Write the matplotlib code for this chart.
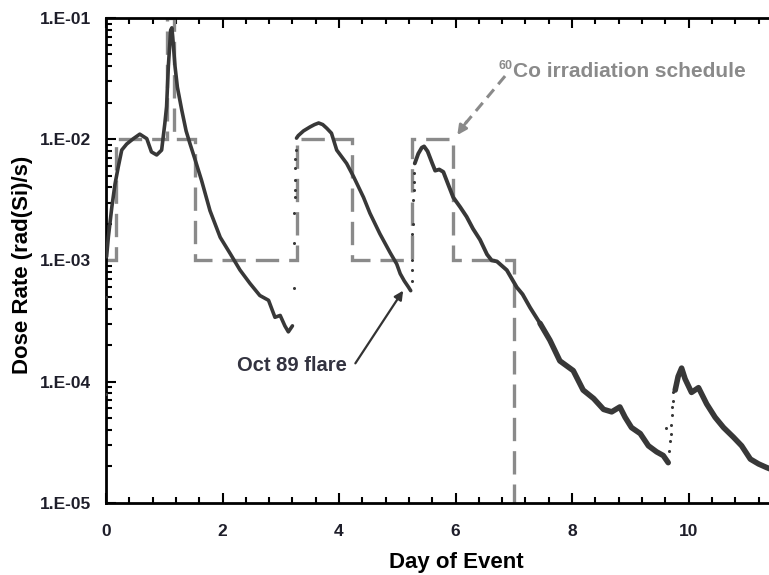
import numpy as np
import matplotlib
matplotlib.use("Agg")
import matplotlib.pyplot as plt
from matplotlib.ticker import MultipleLocator, FixedLocator, FuncFormatter, LogLocator, NullFormatter

plt.rcParams['font.family'] = ['Liberation Sans', 'DejaVu Sans']
plt.rcParams['font.weight'] = 'bold'

# ---- data (Day of event, dose rate rad(Si)/s) ----
seg1_day = [0.01, 0.04, 0.10, 0.155, 0.21, 0.27, 0.355, 0.47, 0.58, 0.70, 0.78, 0.87, 0.955,
            1.01, 1.04, 1.07, 1.11, 1.13, 1.145, 1.185, 1.225, 1.30, 1.375, 1.44, 1.53, 1.64,
            1.785, 1.96, 2.13, 2.30, 2.47, 2.64, 2.79, 2.90, 2.99, 3.07, 3.13, 3.20]
seg1_dose = [1.07e-3, 1.55e-3, 2.75e-3, 4.27e-3, 5.89e-3, 8.13e-3, 9.12e-3, 1.01e-2, 1.10e-2,
             1.01e-2, 7.85e-3, 7.41e-3, 8.13e-3, 1.35e-2, 1.86e-2, 3.98e-2, 7.94e-2, 8.3e-2,
             7.0e-2, 3.98e-2, 2.69e-2, 1.74e-2, 1.17e-2, 9.23e-3, 6.76e-3, 4.57e-3, 2.57e-3,
             1.55e-3, 1.14e-3, 8.32e-4, 6.46e-4, 5.13e-4, 4.68e-4, 3.39e-4, 3.51e-4, 2.88e-4,
             2.57e-4, 2.88e-4]

seg2_day = [3.27, 3.30, 3.39, 3.50, 3.58, 3.65, 3.72, 3.79, 3.87, 3.96, 4.13, 4.25, 4.42, 4.53,
            4.70, 4.88, 4.99, 5.05, 5.12, 5.19, 5.23]
seg2_dose = [1.02e-2, 1.07e-2, 1.17e-2, 1.26e-2, 1.32e-2, 1.36e-2, 1.32e-2, 1.23e-2, 1.12e-2,
             8.13e-3, 6.31e-3, 4.90e-3, 3.31e-3, 2.45e-3, 1.66e-3, 1.15e-3, 9.33e-4, 7.76e-4,
             6.76e-4, 6.03e-4, 5.62e-4]

seg3_day = [5.30, 5.36, 5.42, 5.46, 5.52, 5.60, 5.65, 5.72, 5.79, 5.87, 5.96, 6.08, 6.19, 6.30,
            6.42, 6.54, 6.62, 6.71, 6.88, 7.05, 7.15, 7.28, 7.45, 7.62, 7.79, 8.02, 8.19, 8.37,
            8.54, 8.68, 8.82, 8.91, 9.02, 9.17, 9.31, 9.45, 9.565, 9.65]
seg3_dose = [6.31e-3, 7.59e-3, 8.51e-3, 8.71e-3, 7.94e-3, 6.31e-3, 5.50e-3, 5.62e-3, 5.37e-3,
             4.27e-3, 3.31e-3, 2.75e-3, 2.29e-3, 1.82e-3, 1.48e-3, 1.12e-3, 1.0e-3, 9.8e-4,
             8.3e-4, 6.0e-4, 5.25e-4, 4.07e-4, 3.02e-4, 2.19e-4, 1.48e-4, 1.23e-4, 8.5e-5,
             7.24e-5, 5.89e-5, 5.62e-5, 6.17e-5, 5.07e-5, 4.17e-5, 3.72e-5, 2.95e-5, 2.63e-5,
             2.45e-5, 2.14e-5]

seg4_day = [9.77, 9.82, 9.88, 9.94, 10.05, 10.17, 10.31, 10.455, 10.60, 10.77, 10.91, 11.06,
            11.20, 11.34, 11.40]
seg4_dose = [8.5e-5, 1.10e-4, 1.29e-4, 1.05e-4, 8.13e-5, 8.9e-5, 6.53e-5, 5.07e-5, 4.17e-5,
             3.47e-5, 2.95e-5, 2.29e-5, 2.09e-5, 1.95e-5, 1.9e-5]

# sparse points (rising edges / stray samples)
dots_day = [0.0, 0.0, 3.22, 3.23, 3.23, 3.24, 3.24, 3.24, 3.25, 3.25, 3.26,
            5.25, 5.25, 5.26, 5.26, 5.27, 5.27, 5.28, 5.28, 5.29,
            9.62, 9.67, 9.68, 9.69, 9.70, 9.71, 9.72, 9.73, 9.74]
dots_dose = [5.0e-4, 7.9e-5, 5.9e-4, 1.38e-3, 2.45e-3, 3.31e-3, 3.80e-3, 4.57e-3, 5.75e-3,
             6.92e-3, 8.13e-3,
             6.8e-4, 8.3e-4, 1.0e-3, 1.66e-3, 2.0e-3, 3.16e-3, 3.8e-3, 4.47e-3, 5.25e-3,
             4.1e-5, 2.69e-5, 3.24e-5, 3.72e-5, 4.37e-5, 5.25e-5, 6.17e-5, 6.92e-5, 8.13e-5]

# 60Co irradiation schedule (step)
sched_day = [0, 0.18, 0.18, 1.04, 1.04, 1.17, 1.17, 1.53, 1.53, 3.27, 3.27, 4.22, 4.22,
             5.25, 5.25, 5.95, 5.95, 7.0, 7.0]
sched_dose = [1e-3, 1e-3, 1e-2, 1e-2, 1e-1, 1e-1, 1e-2, 1e-2, 1e-3, 1e-3, 1e-2, 1e-2, 1e-3,
              1e-3, 1e-2, 1e-2, 1e-3, 1e-3, 1e-5]

y_ticks = [1e-5, 1e-4, 1e-3, 1e-2, 1e-1]
x_ticks = [0, 2, 4, 6, 8, 10]

# ---- figure ----
fig = plt.figure(figsize=(7.69, 5.75), dpi=100)
ax = fig.add_axes([106/769, 1 - 502.7/575, 1 - 106/769, (502.7 - 18)/575])
ax.set_yscale('log')
ax.set_xlim(0, 11.38)
ax.set_ylim(1e-5, 1e-1)

gray = '#8a8a8a'
dark = '#383838'

ax.plot(sched_day, sched_dose, color=gray, lw=2.4, dashes=(7, 3), zorder=2,
        solid_joinstyle='miter', dash_joinstyle='miter', dash_capstyle='butt')

ax.plot(seg1_day, seg1_dose, color=dark, lw=2.6, zorder=3, solid_joinstyle='round',
        solid_capstyle='round')
ax.plot(seg2_day, seg2_dose, color=dark, lw=2.6, zorder=3, solid_joinstyle='round',
        solid_capstyle='round')
s3d = np.array(seg3_day); s3v = np.array(seg3_dose)
early = s3d <= 7.62
ax.plot(s3d[early], s3v[early], color=dark, lw=2.8, zorder=3, solid_joinstyle='round',
        solid_capstyle='round')
late = s3d >= 7.45
ax.plot(s3d[late], s3v[late], color=dark, lw=4.0, zorder=3, solid_joinstyle='round',
        solid_capstyle='round')
ax.plot(seg4_day, seg4_dose, color=dark, lw=4.0, zorder=3, solid_joinstyle='round',
        solid_capstyle='round')
ax.plot(dots_day, dots_dose, 'o', color=dark, ms=2.2, mew=0, zorder=3)

# ticks
ax.xaxis.set_major_locator(FixedLocator(x_ticks))
ax.xaxis.set_minor_locator(MultipleLocator(0.4))
ax.yaxis.set_major_locator(FixedLocator(y_ticks))
ax.yaxis.set_minor_locator(LogLocator(base=10, subs=np.arange(2, 10)))
ax.yaxis.set_minor_formatter(NullFormatter())
ax.yaxis.set_major_formatter(FuncFormatter(lambda v, p: "1.E%03d" % int(round(np.log10(v)))))

lab_col = '#1e1e2a'
ax.tick_params(which='both', direction='in', top=True, right=False, width=1.5, colors='black',
               labelcolor=lab_col)
ax.tick_params(which='major', length=7, labelsize=12.5)
ax.tick_params(which='minor', length=4.5)
ax.tick_params(axis='x', which='major', pad=15)
ax.tick_params(axis='y', which='major', pad=11)
for lbl in ax.get_xticklabels() + ax.get_yticklabels():
    lbl.set_fontweight('bold')

for s in ['left', 'bottom', 'top']:
    ax.spines[s].set_linewidth(2.0)
ax.spines['right'].set_visible(False)

ax.set_xlabel('Day of Event', fontsize=16, fontweight='bold', color='black')
ax.set_ylabel('Dose Rate (rad(Si)/s)', fontsize=16, fontweight='bold', color='black')
ax.xaxis.set_label_coords((456 - 106) / 663, -(552 - 502.7) / 484.7)
ax.yaxis.set_label_coords(-(106 - 33) / 663, (502.7 - 265) / 484.7)

# annotations
ax.text(3.19, 1.36e-4, 'Oct 89 flare', fontsize=14.5, fontweight='bold', color='#333340',
        ha='center', va='center')
ax.annotate('', xy=(5.10, 10**-3.25), xytext=(4.28, 10**-3.85),
            arrowprops=dict(arrowstyle='-|>', color='#333333', lw=1.6, mutation_scale=13,
                            shrinkA=0, shrinkB=0))

ax.text(6.99, 10**-1.44, 'Co irradiation schedule', fontsize=15, fontweight='bold', color=gray,
        ha='left', va='center')
ax.text(6.98, 10**-1.395, '60', fontsize=9, fontweight='bold', color=gray,
        ha='right', va='center')
ax.plot([6.85, 6.17], [10**-1.479, 10**-1.87], color=gray, lw=2.2, dashes=(3.5, 2.2))
ax.annotate('', xy=(6.03, 10**-1.966), xytext=(6.19, 10**-1.855),
            arrowprops=dict(arrowstyle='-|>', color=gray, lw=2.0, mutation_scale=14,
                            shrinkA=0, shrinkB=0))

fig.savefig('out.png', dpi=100)
